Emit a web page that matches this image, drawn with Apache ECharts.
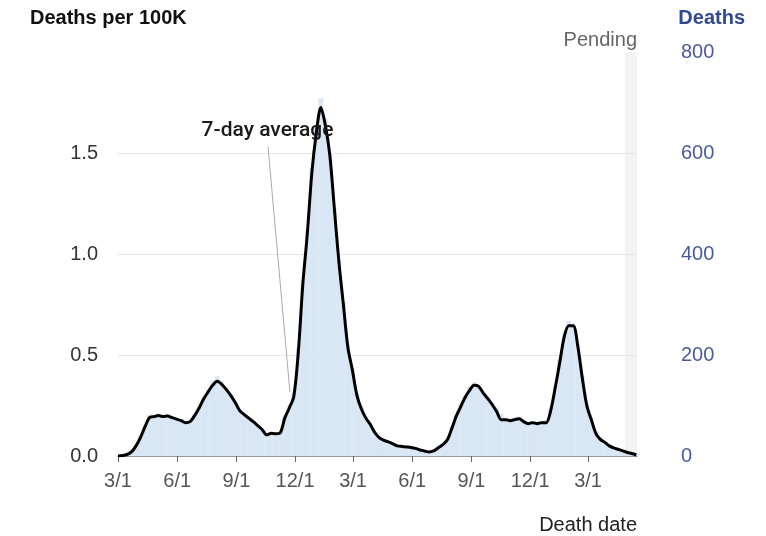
<!DOCTYPE html>
<html>
<head>
<meta charset="utf-8">
<script src="https://cdn.jsdelivr.net/npm/echarts@6/dist/echarts.min.js"></script>
<style>
html, body { margin: 0; padding: 0; background: #fff; }
#chart { width: 766px; height: 536px; }
</style>
</head>
<body>
<div id="chart"></div>
<script>
// weekly readings, first week starts 2020-03-01
var firstWeek = [2020, 2, 1];

// 7-day average, deaths per day
var avgDeaths = [
    0, 1, 3, 8, 20, 37, 58, 76, 78, 80,
    78, 79, 76, 73, 70, 66, 68, 80, 95, 113,
    127, 140, 148, 142, 132, 120, 106, 90, 82, 75,
    68, 60, 52, 42, 45, 44, 46, 75, 95, 118,
    205, 340, 440, 560, 640, 690, 655, 595, 490, 385,
    300, 215, 170, 120, 93, 75, 62, 46, 36, 31,
    28, 24, 20, 19, 18, 17, 15, 12, 10, 8,
    10, 16, 22, 31, 53, 78, 97, 116, 130, 140,
    138, 125, 114, 102, 88, 72, 72, 70, 72, 74,
    68, 64, 66, 64, 66, 66, 90, 135, 185, 236,
    258, 258, 218, 155, 100, 72, 45, 33, 27, 20,
    16, 13, 10, 7, 5, 2
];

// reported deaths (bars)
var dailyDeaths = [
    0, 1, 4, 10, 22, 40, 62, 82, 80, 84,
    80, 82, 78, 75, 72, 68, 70, 84, 98, 118,
    132, 150, 158, 148, 136, 124, 108, 92, 84, 78,
    70, 62, 54, 44, 47, 46, 48, 78, 98, 124,
    214, 348, 448, 570, 652, 708, 668, 600, 492, 388,
    305, 220, 174, 124, 96, 78, 64, 48, 38, 32,
    29, 26, 22, 21, 20, 19, 17, 14, 12, 10,
    12, 18, 24, 34, 58, 82, 102, 120, 136, 146,
    140, 126, 116, 106, 96, 84, 76, 74, 76, 78,
    72, 67, 69, 68, 70, 70, 94, 140, 192, 244,
    268, 262, 222, 160, 104, 76, 48, 36, 30, 22,
    18, 15, 12, 9, 6, 3
];

var tickDates = [
    [2020, 2, 1], [2020, 5, 1], [2020, 8, 1], [2020, 11, 1],
    [2021, 2, 1], [2021, 5, 1], [2021, 8, 1], [2021, 11, 1],
    [2022, 2, 1]
];
var axisStart = [2020, 2, 1];
var axisEnd = [2022, 4, 16];
var pendingStart = [2022, 3, 27];
var noteTop = [[2020, 9, 20], 612];
var noteBottom = [[2020, 10, 23], 127];

function ts(d) { return new Date(d[0], d[1], d[2]).getTime(); }
function weekTs(k) { return new Date(firstWeek[0], firstWeek[1], firstWeek[2] + 7 * k).getTime(); }

var lineData = avgDeaths.map(function (v, k) { return [weekTs(k), v]; });
var barData = dailyDeaths.map(function (v, k) { return [weekTs(k), v]; });
var tickTimes = tickDates.map(ts);

var font = 'Liberation Sans, Arial, sans-serif';
var myChart = echarts.init(document.getElementById('chart'));

option = {
    animation: false,
    grid: { left: 118, right: 129, top: 52, bottom: 80 },
    xAxis: {
        type: 'value',
        min: ts(axisStart),
        max: ts(axisEnd),
        axisLine: { lineStyle: { color: '#999', width: 1 } },
        axisTick: { show: true, customValues: tickTimes, length: 6, lineStyle: { color: '#666' } },
        axisLabel: {
            customValues: tickTimes,
            margin: 15,
            color: '#555',
            fontSize: 20,
            fontFamily: font,
            formatter: function (v) {
                var d = new Date(v);
                return (d.getMonth() + 1) + '/' + d.getDate();
            }
        },
        splitLine: { show: false }
    },
    yAxis: [{
        type: 'value',
        min: 0, max: 2, interval: 0.5,
        position: 'left',
        axisLine: { show: false },
        axisTick: { show: false },
        axisLabel: {
            margin: 20, color: '#333', fontSize: 20, fontFamily: font,
            formatter: function (v) { return v >= 2 ? '' : v.toFixed(1); }
        },
        splitLine: { lineStyle: { color: ['#e6e6e6', '#e6e6e6', '#e6e6e6', '#e6e6e6', 'rgba(0,0,0,0)'] } }
    }, {
        type: 'value',
        min: 0, max: 800, interval: 200,
        position: 'right',
        axisLine: { show: false },
        axisTick: { show: false },
        axisLabel: { margin: 44, color: '#4a5b9a', fontSize: 20, fontFamily: font },
        splitLine: { show: false }
    }],
    series: [{
        name: 'Deaths',
        type: 'bar',
        yAxisIndex: 1,
        barWidth: 4.8,
        itemStyle: { color: '#d9e6f4' },
        data: barData,
        markArea: {
            silent: true,
            itemStyle: { color: 'rgba(232,232,232,0.5)' },
            data: [[{ xAxis: ts(pendingStart) }, { xAxis: ts(axisEnd) }]]
        }
    }, {
        name: '7-day average',
        type: 'line',
        yAxisIndex: 1,
        smooth: 0.3,
        symbol: 'none',
        lineStyle: { color: '#000', width: 3 },
        data: lineData,
        markLine: {
            silent: true,
            symbol: ['none', 'none'],
            lineStyle: { color: '#aaa', width: 1, type: 'solid' },
            label: {
                show: true, position: 'start', distance: 6,
                formatter: '7-day average',
                color: '#1a1a1a', fontSize: 21, fontWeight: 500, fontFamily: 'Roboto, Liberation Sans, sans-serif'
            },
            data: [[
                { coord: [ts(noteTop[0]), noteTop[1]] },
                { coord: [ts(noteBottom[0]), noteBottom[1]] }
            ]]
        }
    }],
    graphic: [
        { type: 'text', left: 30, top: 8, style: { text: 'Deaths per 100K', font: 'bold 20px ' + font, fill: '#111' } },
        { type: 'text', right: 21, top: 8, style: { text: 'Deaths', font: 'bold 20px ' + font, fill: '#2f4a8f' } },
        { type: 'text', right: 129, top: 30, style: { text: 'Pending', font: '20px ' + font, fill: '#666' } },
        { type: 'text', right: 129, top: 515, style: { text: 'Death date', font: '20px ' + font, fill: '#222' } }
    ]
};

myChart.setOption(option);
</script>
</body>
</html>
